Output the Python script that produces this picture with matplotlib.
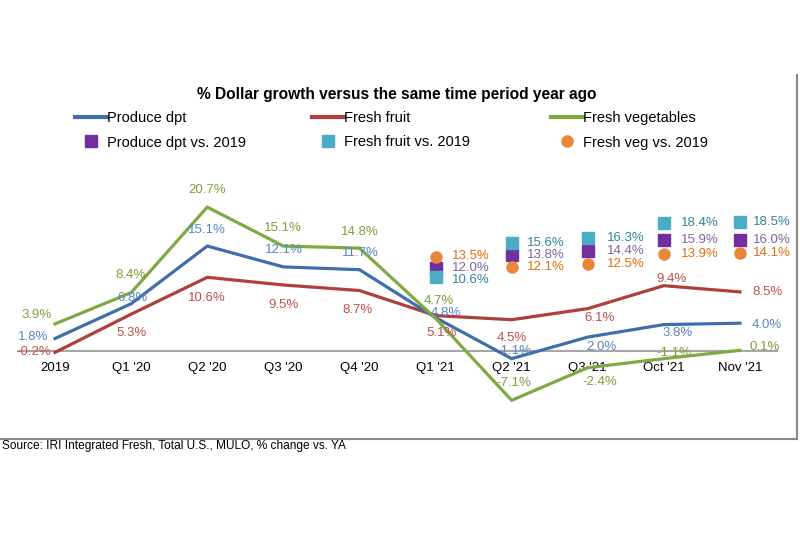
import matplotlib
matplotlib.use("Agg")
import matplotlib.pyplot as plt
import matplotlib.transforms as mtrans
from matplotlib.lines import Line2D

plt.rcParams['font.family'] = ['Liberation Sans', 'DejaVu Sans']

categories = ["2019", "Q1 '20", "Q2 '20", "Q3 '20", "Q4 '20",
              "Q1 '21", "Q2 '21", "Q3 '21", "Oct '21", "Nov '21"]
produce = [1.8, 6.8, 15.1, 12.1, 11.7, 4.8, -1.1, 2.0, 3.8, 4.0]
fruit = [-0.2, 5.3, 10.6, 9.5, 8.7, 5.1, 4.5, 6.1, 9.4, 8.5]
veg = [3.9, 8.4, 20.7, 15.1, 14.8, 4.7, -7.1, -2.4, -1.1, 0.1]

vs2019_categories = ["Q1 '21", "Q2 '21", "Q3 '21", "Oct '21", "Nov '21"]
produce_vs2019 = [12.0, 13.8, 14.4, 15.9, 16.0]
fruit_vs2019 = [10.6, 15.6, 16.3, 18.4, 18.5]
veg_vs2019 = [13.5, 12.1, 12.5, 13.9, 14.1]

# label offsets in pixels (style only)
produce_off = [(-22, 1), (1, 6), (0, 16), (1, 17), (1, 17), (10, 5), (2, 8), (14, -10), (14, -8), (27, -2)]
fruit_off = [(-21, 0), (0, -19), (0, -21), (0, -20), (-2, -19), (6, -17), (0, -18), (12, -9), (8, 7), (28, 0)]
veg_off = [(-18, 9), (-1, 18), (0, 17), (0, 18), (0, 16), (3, 17), (2, 17), (12, -14), (10, 6), (25, 3)]
scat_dx = [16, 15, 19, 17, 13]
scat_dy_fruit = [-3, 0, 0, 0, 0]
scat_dy_veg = [1, 0, 0, 0, 0]

C_PROD = '#3F6EAB'
C_FRUIT = '#AF3F3C'
C_VEG = '#7DAA43'
L_PROD = '#5585C5'
L_FRUIT = '#C0504D'
L_VEG = '#7E9F3C'
C_PURPLE = '#7030A0'
C_CYAN = '#4BACC6'
C_ORANGE = '#E8873A'
L_PURPLE = '#8064A2'
L_CYAN = '#31859C'
L_ORANGE = '#E46C0A'

fig = plt.figure(figsize=(8, 5.34), dpi=100)
ax = fig.add_axes([17/800, 1-430/534, 761/800, 260/534])

x = list(range(len(categories)))
ax.axhline(0, color='#A6A6A6', lw=1.5, zorder=1)
ax.plot(x, produce, color=C_PROD, lw=2.3, solid_joinstyle='miter', zorder=3)
ax.plot(x, fruit, color=C_FRUIT, lw=2.3, solid_joinstyle='miter', zorder=2)
ax.plot(x, veg, color=C_VEG, lw=2.3, solid_joinstyle='miter', zorder=4)

xs = [categories.index(c) for c in vs2019_categories]
ax.plot(xs, produce_vs2019, ls='none', marker='s', ms=8, color=C_PURPLE, zorder=5)
ax.plot(xs, fruit_vs2019, ls='none', marker='s', ms=8, color=C_CYAN, zorder=5)
ax.plot(xs, veg_vs2019, ls='none', marker='o', ms=8, color=C_ORANGE, zorder=5)

FS = 9.5
for vals, offs, col in [(produce, produce_off, L_PROD), (fruit, fruit_off, L_FRUIT), (veg, veg_off, L_VEG)]:
    for i, (v, o) in enumerate(zip(vals, offs)):
        ax.annotate(f"{v:.1f}%", (i, v), xytext=o, textcoords='offset pixels',
                    ha='center', va='center', fontsize=FS, color=col, zorder=6)

zero_dy = [0] * len(xs)
for vals, col, dys in [(produce_vs2019, L_PURPLE, zero_dy), (fruit_vs2019, L_CYAN, scat_dy_fruit),
                       (veg_vs2019, L_ORANGE, scat_dy_veg)]:
    for xi, v, dx, dy in zip(xs, vals, scat_dx, dys):
        ax.annotate(f"{v:.1f}%", (xi, v), xytext=(dx, dy), textcoords='offset pixels',
                    ha='left', va='center', fontsize=FS, color=col, zorder=6)

ax.set_xlim(-0.5, len(categories) - 0.5)
ax.set_ylim(-(430-351)/6.95, (351-170)/6.95)
ax.set_xticks(x)
ax.set_xticklabels(categories, fontsize=FS, color='#000000')
ax.tick_params(axis='x', length=0, pad=0)
ax.set_yticks([])
for s in ax.spines.values():
    s.set_visible(False)
ax.patch.set_alpha(0)

for lab in ax.get_xticklabels():
    lab.set_transform(ax.transData + mtrans.ScaledTranslation(0, -17/100, fig.dpi_scale_trans))
    lab.set_y(0)
    lab.set_va('center')

fig.text(397/800, 1-94/534, "% Dollar growth versus the same time period year ago",
         ha='center', va='center', fontsize=11.2, fontweight='bold')

LFS = 10.5
cols = [
    (75, "Produce dpt", C_PROD, "Produce dpt vs. 2019", C_PURPLE, 's'),
    (312, "Fresh fruit", C_FRUIT, "Fresh fruit vs. 2019", C_CYAN, 's'),
    (551, "Fresh vegetables", C_VEG, "Fresh veg vs. 2019", C_ORANGE, 'o'),
]
for xp, l1, c1, l2, c2, m in cols:
    h1 = Line2D([], [], color=c1, lw=3)
    h2 = Line2D([], [], ls='none', marker=m, ms=8, color=c2)
    fig.legend([h1, h2], [l1, l2], loc='upper left',
               bbox_to_anchor=(xp/800, 1-111/534), frameon=False,
               fontsize=LFS, handlelength=2.2, handletextpad=0.0,
               labelspacing=0.72, borderpad=0, borderaxespad=0)

fig.text(2/800, 1-446/534, "Source: IRI Integrated Fresh, Total U.S., MULO, % change vs. YA",
         ha='left', va='center', fontsize=8.6)

# chart frame (partial, as in screenshot)
fig.add_artist(Line2D([0, 797/800], [1-439/534, 1-439/534], color='#888888', lw=1.5, transform=fig.transFigure))
fig.add_artist(Line2D([797/800, 797/800], [1-75/534, 1-439/534], color='#888888', lw=1.5, transform=fig.transFigure))

fig.savefig("out.png", dpi=100)
